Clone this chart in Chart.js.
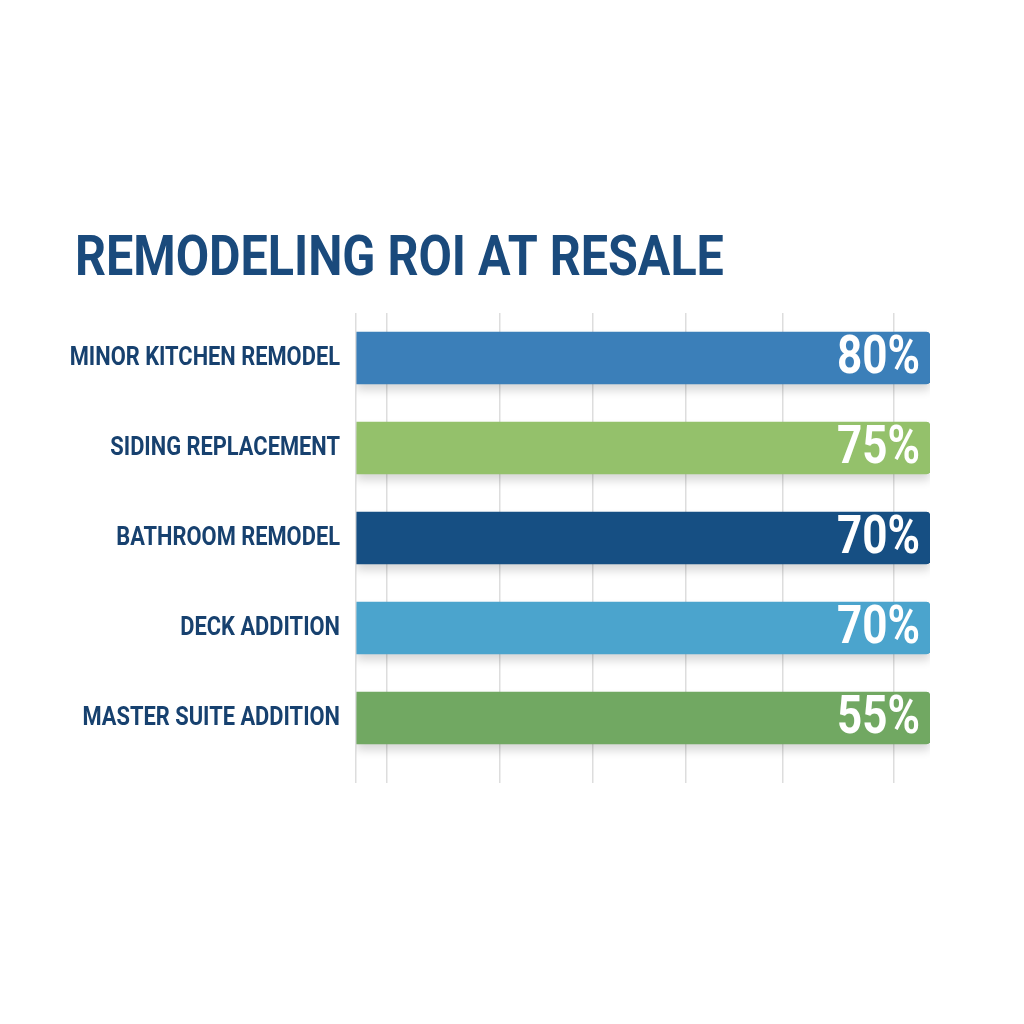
<!DOCTYPE html>
<html>
<head>
<meta charset="utf-8">
<script src="https://cdn.jsdelivr.net/npm/chart.js@4"></script>
<style>
  html, body { margin: 0; padding: 0; background: #ffffff; }
  #roi { display: block; }
</style>
</head>
<body>
<canvas id="roi" width="1024" height="1024"></canvas>
<script>
const categories = ['MINOR KITCHEN REMODEL', 'SIDING REPLACEMENT', 'BATHROOM REMODEL', 'DECK ADDITION', 'MASTER SUITE ADDITION'];
const roiPercent = [80, 75, 70, 70, 55];
// in the picture every bar runs out to the same end, whatever its label says
const barReach = [100, 100, 100, 100, 100];
const gridStops = [0, 5.4, 25.1, 41.3, 57.5, 74.4, 93.6];
const barColors = ['#3b7fb9', '#94c16b', '#164f83', '#4ba4cd', '#71a862'];

const chartTitle = 'REMODELING ROI AT RESALE';
const navy = '#17416f';

// the reference uses a narrow face; squeeze Roboto horizontally instead
function drawNarrow(ctx, text, x, y, squeeze, align) {
  ctx.save();
  ctx.translate(x, y);
  ctx.scale(squeeze, 1);
  ctx.textAlign = align;
  ctx.fillText(text, 0, 0);
  ctx.restore();
}

// soft drop shadow under the bars
const barShadow = {
  id: 'barShadow',
  beforeDatasetsDraw(chart) {
    const ctx = chart.ctx;
    ctx.save();
    ctx.shadowColor = 'rgba(0, 0, 0, 0.16)';
    ctx.shadowBlur = 10;
    ctx.shadowOffsetY = 6;
  },
  afterDatasetsDraw(chart) {
    chart.ctx.restore();
  }
};

// title, category names and the white percentages
const narrowText = {
  id: 'narrowText',
  afterDatasetsDraw(chart) {
    const ctx = chart.ctx;
    const meta = chart.getDatasetMeta(0);
    const yScale = chart.scales.y;

    ctx.save();
    ctx.textBaseline = 'alphabetic';
    ctx.fillStyle = '#1a4a7c';
    ctx.font = 'bold 56px Roboto, sans-serif';
    drawNarrow(ctx, chartTitle, 75, chart.chartArea.top - 38, 0.865, 'left');

    ctx.textBaseline = 'middle';
    ctx.fillStyle = navy;
    ctx.font = 'bold 25px Roboto, sans-serif';
    categories.forEach((name, i) => {
      drawNarrow(ctx, name, yScale.right - 16, yScale.getPixelForValue(i) + 1, 0.874, 'right');
    });

    ctx.fillStyle = '#ffffff';
    ctx.font = 'bold 53px Roboto, sans-serif';
    meta.data.forEach((bar, i) => {
      drawNarrow(ctx, roiPercent[i] + '%', bar.x - 10, bar.y + 2, 0.83, 'right');
    });
    ctx.restore();
  }
};

try {
  new Chart(document.getElementById('roi'), {
    type: 'bar',
    plugins: [barShadow, narrowText],
    options: {
      indexAxis: 'y',
      responsive: false,
      animation: false,
      layout: {
        padding: { top: 313, bottom: 241, left: 60, right: 94 }
      },
      plugins: {
        legend: { display: false },
        tooltip: { enabled: false },
        title: { display: false }
      },
      scales: {
        x: {
          min: 0,
          max: 100,
          afterBuildTicks: scale => {
            scale.ticks = gridStops.map(v => ({ value: v }));
          },
          ticks: { display: false },
          border: { display: false },
          grid: { color: '#dddddd', lineWidth: 1.5, tickLength: 20 }
        },
        y: {
          afterFit: scale => { scale.width = 296; },
          border: { display: false },
          grid: { display: false },
          ticks: { display: false }
        }
      }
    },
    data: {
      labels: categories,
      datasets: [
        {
          label: 'ROI at resale',
          data: barReach,
          backgroundColor: barColors,
          barThickness: 52,
          borderSkipped: false,
          borderRadius: { topLeft: 0, bottomLeft: 0, topRight: 4, bottomRight: 4 }
        }
      ]
    }
  });
} catch (error) {
  console.log(error);
}
</script>
</body>
</html>
